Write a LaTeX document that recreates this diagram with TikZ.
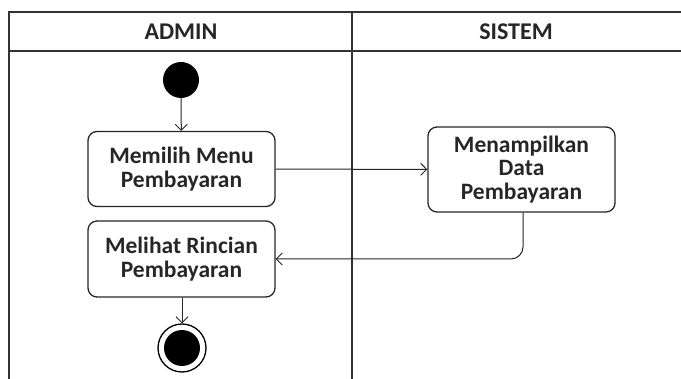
\documentclass[tikz,border=0pt]{standalone}
\usepackage{fontspec}
\setmainfont{Carlito}
\usetikzlibrary{arrows.meta}
\begin{document}
\begin{tikzpicture}[x=1pt,y=-1pt,
  lane/.style={draw=black!80,line width=1.6pt},
  act/.style={draw=black!85,line width=1.3pt,rounded corners=9pt,align=center,
    text=black!85,font=\fontsize{23.5}{23.5}\selectfont\bfseries,inner sep=0pt},
  flow/.style={draw=black!85,line width=1pt,-{Straight Barb[length=6pt,width=12pt,line width=0.9pt]}},
  head/.style={text=black!85,font=\fontsize{24}{24}\selectfont\bfseries}]
\useasboundingbox (0,0) rectangle (681,379);
% swimlane frame
\draw[lane] (9,379) -- (9,12) -- (681,12);
\draw[lane] (9,51) -- (681,51);
\draw[lane] (352,12) -- (352,379);
\node[head] (hadmin) at (181,32) {ADMIN};
\node[head] (hsistem) at (516,32) {SISTEM};
% activities
\node[act,minimum width=187pt,minimum height=75pt] (pilih) at (181.5,169) {Memilih Menu\\Pembayaran};
\node[act,minimum width=187pt,minimum height=76pt] (lihat) at (181.5,259) {Melihat Rincian\\Pembayaran};
\node[act,minimum width=187pt,minimum height=85pt] (tampil) at (521.5,169.5) {Menampilkan\\Data\\Pembayaran};
% initial and final nodes
\node[circle,fill=black,minimum size=36pt,inner sep=0pt] (start) at (181,80) {};
\node[circle,draw=black,line width=1.3pt,minimum size=48pt,inner sep=0pt] (stop) at (182,348) {};
\node[circle,fill=black,minimum size=36pt,inner sep=0pt] (stopin) at (182,348) {};
% control flows
\draw[flow] (start) -- (pilih);
\draw[flow] (pilih) -- (tampil);
\draw[flow,rounded corners=12pt] (tampil.south -| 523,0) -- (523,259) -- (lihat.east);
\draw[flow] (lihat.south -| stop) -- (stop);
\end{tikzpicture}
\end{document}
